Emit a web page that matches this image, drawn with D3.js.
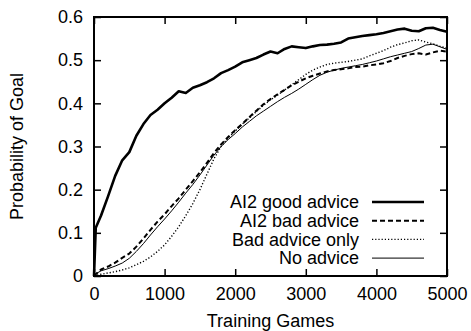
<!DOCTYPE html>
<meta charset="utf-8">
<script src="https://d3js.org/d3.v7.min.js"></script>
<style>
  body { margin: 0; background: #fff; }
  text { font-family: "Liberation Sans", Arial, Helvetica, sans-serif; fill: #000; }
</style>
<div id="my_dataviz"></div>
<script>
// Training games (x) shared by all series
var games = [0, 25, 100, 200, 300, 400, 500, 600, 700, 800, 900, 1000, 1100, 1200, 1300, 1400, 1500,
  1600, 1700, 1800, 1900, 2000, 2100, 2200, 2300, 2400, 2500, 2600, 2700, 2800, 2900, 3000,
  3100, 3200, 3300, 3400, 3500, 3600, 3700, 3800, 3900, 4000, 4100, 4200, 4300, 4400, 4500,
  4600, 4700, 4800, 4900, 5000];

var goodAdvice = [0, 0.112, 0.14, 0.185, 0.232, 0.268, 0.287, 0.325, 0.352, 0.373, 0.385, 0.400,
  0.413, 0.428, 0.424, 0.436, 0.442, 0.449, 0.458, 0.470, 0.477, 0.485, 0.495, 0.500, 0.505,
  0.513, 0.520, 0.516, 0.526, 0.532, 0.530, 0.528, 0.532, 0.535, 0.536, 0.538, 0.541, 0.550,
  0.553, 0.556, 0.558, 0.560, 0.563, 0.567, 0.571, 0.573, 0.568, 0.567, 0.574, 0.575, 0.570, 0.566];

var badAdvice = [0, 0.004, 0.015, 0.022, 0.031, 0.042, 0.052, 0.068, 0.087, 0.107, 0.126, 0.143,
  0.162, 0.180, 0.200, 0.220, 0.240, 0.262, 0.285, 0.305, 0.322, 0.338, 0.352, 0.368, 0.383,
  0.398, 0.410, 0.421, 0.431, 0.442, 0.450, 0.458, 0.464, 0.469, 0.474, 0.477, 0.479, 0.481,
  0.484, 0.485, 0.488, 0.490, 0.493, 0.498, 0.505, 0.510, 0.514, 0.516, 0.513, 0.518, 0.522, 0.520];

var badOnly = [0, 0.001, 0.004, 0.007, 0.010, 0.014, 0.019, 0.026, 0.034, 0.044, 0.057, 0.072,
  0.092, 0.114, 0.140, 0.168, 0.200, 0.236, 0.272, 0.300, 0.320, 0.336, 0.352, 0.366, 0.381,
  0.395, 0.408, 0.419, 0.431, 0.443, 0.455, 0.467, 0.477, 0.484, 0.490, 0.493, 0.495, 0.497,
  0.500, 0.503, 0.510, 0.516, 0.522, 0.530, 0.536, 0.540, 0.545, 0.547, 0.542, 0.538, 0.532, 0.528];

var noAdvice = [0, 0.005, 0.012, 0.017, 0.023, 0.030, 0.041, 0.057, 0.075, 0.095, 0.114, 0.132,
  0.151, 0.171, 0.192, 0.212, 0.234, 0.257, 0.280, 0.300, 0.316, 0.330, 0.345, 0.358, 0.371,
  0.382, 0.393, 0.404, 0.414, 0.423, 0.433, 0.444, 0.455, 0.465, 0.472, 0.477, 0.481, 0.484,
  0.487, 0.490, 0.494, 0.498, 0.503, 0.508, 0.512, 0.516, 0.520, 0.527, 0.535, 0.537, 0.531, 0.525];

var seriesNames = ["AI2 good advice", "AI2 bad advice", "Bad advice only", "No advice"];
var xTicks = [0, 1000, 2000, 3000, 4000, 5000];
var yTicks = [0, 0.1, 0.2, 0.3, 0.4, 0.5, 0.6];

// dimensions
var margin = {top: 17, right: 24, bottom: 55, left: 94},
    width = 471 - margin.left - margin.right,
    height = 331 - margin.top - margin.bottom;

var svg = d3.select("#my_dataviz")
  .append("svg")
    .attr("width", 471)
    .attr("height", 331)
  .append("g")
    .attr("transform", "translate(" + margin.left + "," + margin.top + ")");

var x = d3.scaleLinear().domain([0, 5000]).range([0, width]);
var y = d3.scaleLinear().domain([0, 0.6]).range([height, 0]);

// inward ticks on all four sides
var tickLen = 7;
svg.append("g")
  .attr("transform", "translate(0," + height + ")")
  .call(d3.axisBottom(x).tickValues(xTicks).tickSizeInner(-tickLen).tickSizeOuter(0).tickPadding(11).tickFormat(d3.format("d")))
  .call(function(g) { g.select(".domain").remove(); });
svg.append("g")
  .call(d3.axisTop(x).tickValues(xTicks).tickSizeInner(-tickLen).tickSizeOuter(0).tickFormat(""))
  .call(function(g) { g.select(".domain").remove(); });
svg.append("g")
  .call(d3.axisLeft(y).tickValues(yTicks).tickSizeInner(-tickLen).tickSizeOuter(0).tickPadding(11).tickFormat(function(d) { return d === 0 ? "0" : d3.format(".1f")(d); }))
  .call(function(g) { g.select(".domain").remove(); });
svg.append("g")
  .attr("transform", "translate(" + width + ",0)")
  .call(d3.axisRight(y).tickValues(yTicks).tickSizeInner(-tickLen).tickSizeOuter(0).tickFormat(""))
  .call(function(g) { g.select(".domain").remove(); });

svg.selectAll(".tick line").attr("stroke", "#000").attr("stroke-width", 1.5);
svg.selectAll(".tick text").style("font-size", "18px").style("font-family", "'Liberation Sans', Arial, sans-serif");

// series
var styles = [
  {w: 2.6, dash: null},
  {w: 2, dash: "5,3"},
  {w: 1.4, dash: "1.2,2"},
  {w: 1, dash: null}
];
var allSeries = [goodAdvice, badAdvice, badOnly, noAdvice];

var line = d3.line()
  .x(function(d) { return x(d[0]); })
  .y(function(d) { return y(d[1]); });

svg.selectAll("mylines")
  .data(allSeries)
  .enter()
  .append("path")
    .attr("d", function(vals) { return line(games.map(function(g, i) { return [g, vals[i]]; })); })
    .attr("fill", "none")
    .attr("stroke", "#000")
    .attr("stroke-width", function(d, i) { return styles[i].w; })
    .attr("stroke-dasharray", function(d, i) { return styles[i].dash; })
    .attr("stroke-linejoin", "round");

// frame
svg.append("rect")
  .attr("width", width)
  .attr("height", height)
  .attr("fill", "none")
  .attr("stroke", "#000")
  .attr("stroke-width", 2);

// legend
var legend = svg.selectAll("mylegend")
  .data(seriesNames)
  .enter()
  .append("g")
    .attr("transform", function(d, i) { return "translate(0," + (185 + i * 18.7) + ")"; });

legend.append("text")
  .attr("x", 265)
  .attr("y", 0)
  .attr("dy", "0.35em")
  .style("text-anchor", "end")
  .style("font-size", "18px")
  .text(function(d) { return d; });

legend.append("line")
  .attr("x1", 278)
  .attr("x2", 330)
  .attr("stroke", "#000")
  .attr("stroke-width", function(d, i) { return styles[i].w; })
  .attr("stroke-dasharray", function(d, i) { return styles[i].dash; });

// axis titles
svg.append("text")
  .attr("x", width / 2)
  .attr("y", height + 51)
  .style("text-anchor", "middle")
  .style("font-size", "18px")
  .text("Training Games");

svg.append("text")
  .attr("transform", "rotate(-90)")
  .attr("x", -height / 2)
  .attr("y", -71)
  .style("text-anchor", "middle")
  .style("font-size", "18px")
  .text("Probability of Goal");
</script>
